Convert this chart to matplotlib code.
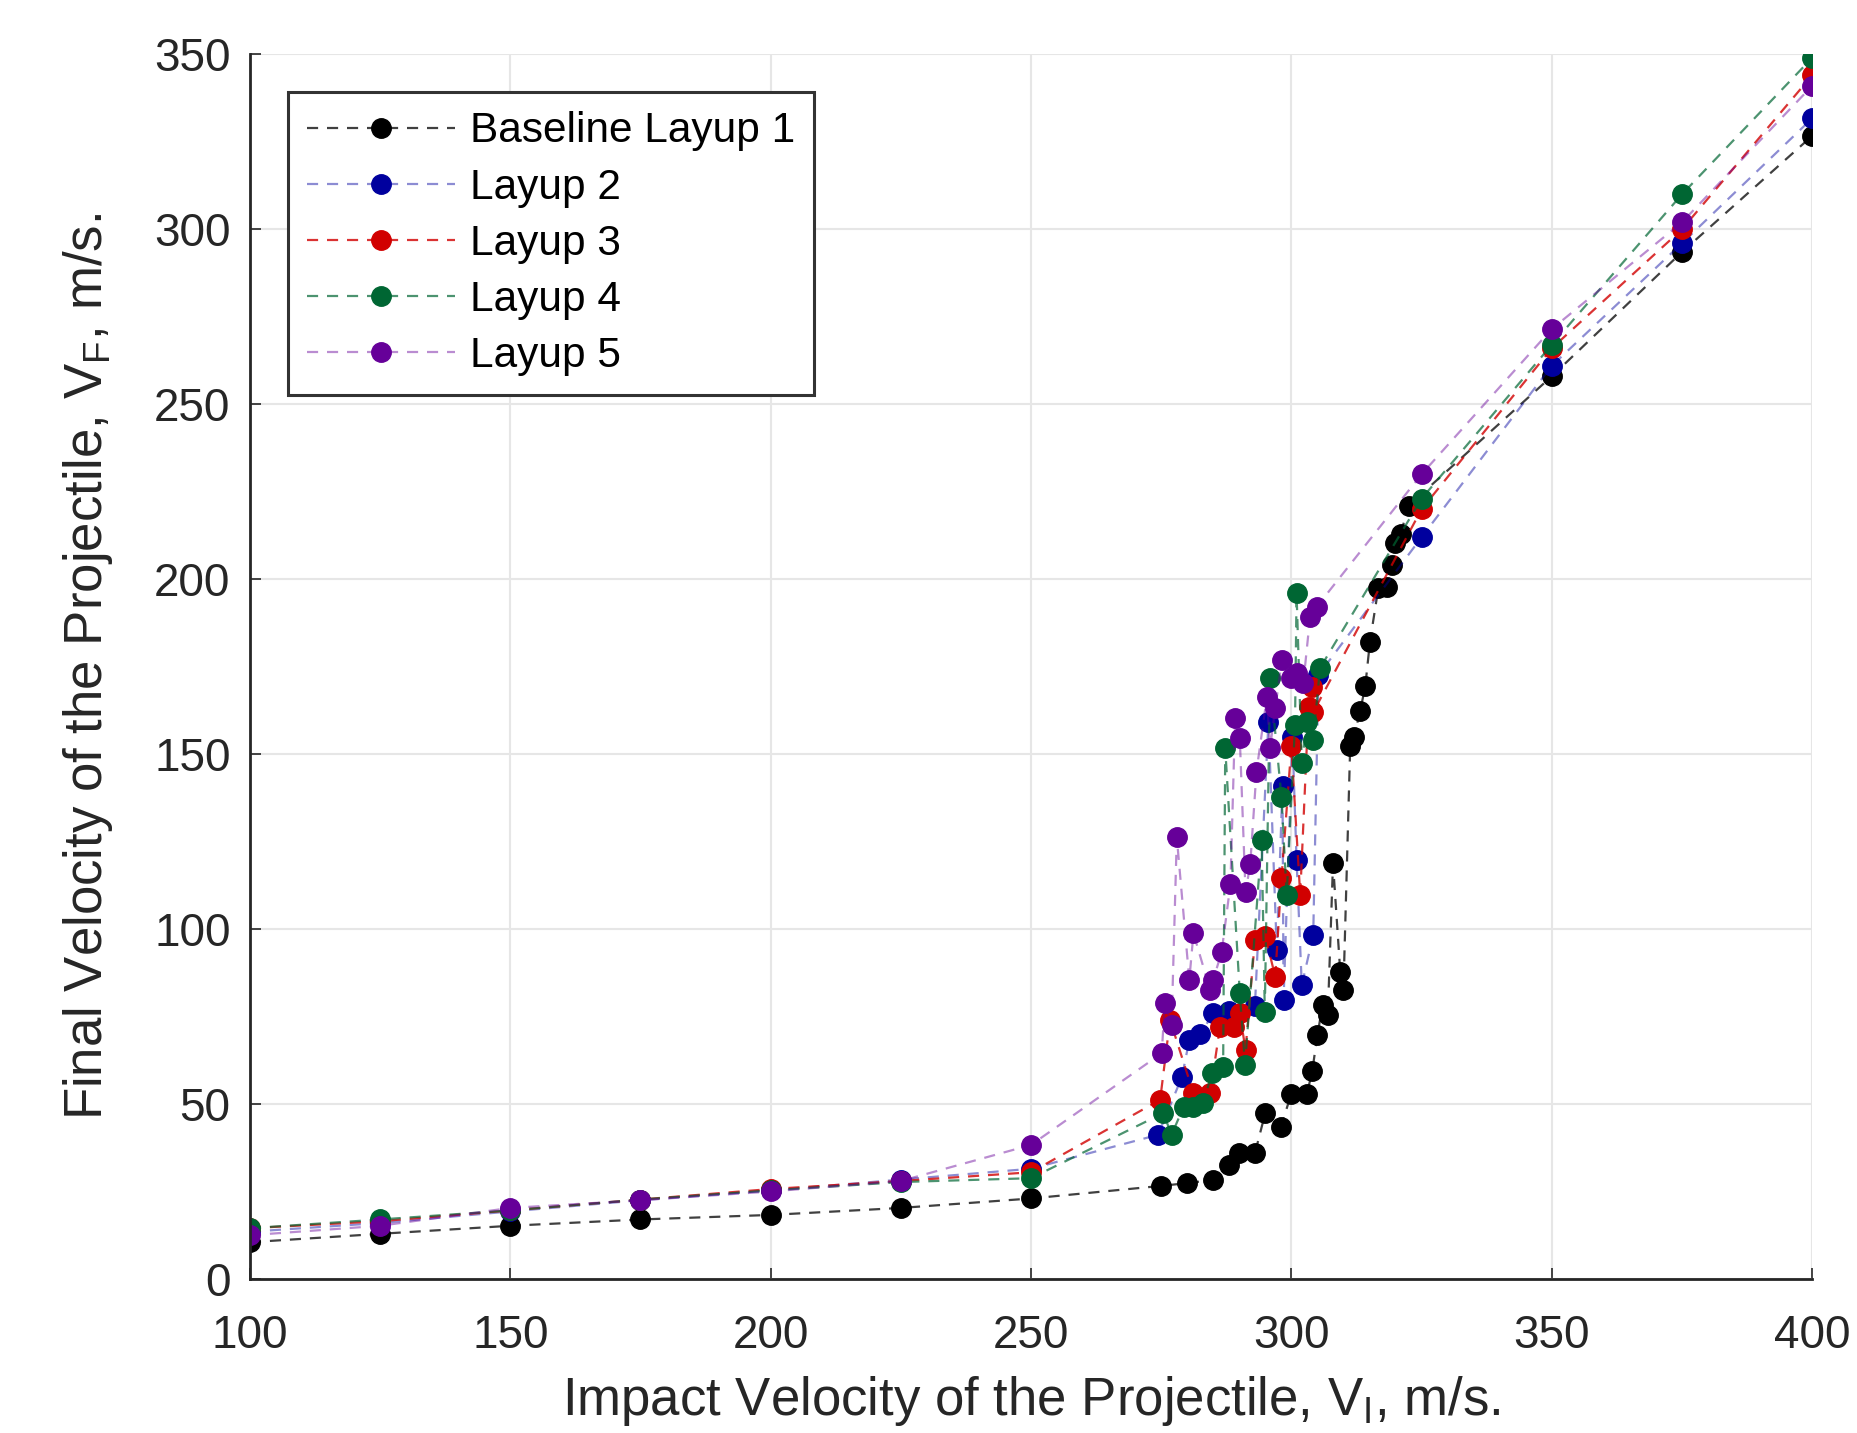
import matplotlib.pyplot as plt

plt.rcParams['font.family'] = ['Liberation Sans', 'DejaVu Sans']
plt.rcParams['mathtext.fontset'] = 'custom'
plt.rcParams['mathtext.rm'] = 'Liberation Sans'

# Baseline Layup 1
x1 = [100, 125, 150, 175, 200, 225, 250, 275, 280, 285, 288, 290, 293, 295, 298,
      300, 303, 304, 305, 306, 307, 308, 309.4, 310, 311.3, 312, 313.2, 314.2,
      315.1, 316.7, 318.3, 319.3, 320, 321, 322.5, 350, 375, 400]
y1 = [10.5, 12.9, 15.2, 17, 18.3, 20.3, 23, 26.6, 27.4, 28.3, 32.6, 35.9, 35.9,
      47.5, 43.5, 53, 53, 59.3, 69.7, 78.3, 75.5, 118.8, 87.6, 82.6, 152.2, 155,
      162.2, 169.5, 182.2, 197.4, 197.9, 204.1, 210.3, 213, 221, 258, 293.5, 326.7]

# Layup 2
x2 = [100, 125, 150, 175, 200, 225, 250, 274.4, 279, 280.4, 282.5, 285, 288, 293,
      295.6, 297.2, 298.3, 298.5, 300.2, 301, 302, 304.2, 305.2, 325, 350, 375, 400]
y2 = [13.5, 16, 19.3, 22.5, 25.3, 28.4, 31.5, 41.2, 57.8, 68.3, 70, 75.9, 76.5, 78,
      159.3, 94, 141, 79.7, 155, 119.8, 84, 98.3, 172.6, 212, 261, 296, 331.7]

# Layup 3
x3 = [100, 125, 150, 175, 200, 225, 250, 274.8, 276.7, 281.2, 284.4, 286.3, 288.9,
      290.1, 291.2, 293, 295, 296.9, 298.1, 300, 301.7, 303.3, 303.9, 304.2,
      325, 350, 375, 400]
y3 = [14.5, 16.5, 19.6, 22.7, 25.7, 28, 30.5, 51.2, 74, 53.1, 53.1, 72.1, 72.1,
      75.9, 65.5, 96.9, 98, 86.4, 114.5, 152.2, 109.8, 163.5, 169.3, 162,
      220, 266, 300, 344]

# Layup 4
x4 = [100, 125, 150, 175, 200, 225, 250, 275.4, 277, 279.3, 281.2, 283.1, 284.7,
      286.9, 287.3, 290.1, 291.1, 294.3, 294.9, 295.9, 298.1, 299.1, 300.7, 301,
      302, 303, 304.2, 305.5, 325, 350, 375, 400]
y4 = [14.5, 17, 19.6, 22.7, 25.3, 27.7, 28.8, 47.4, 41.2, 49.2, 49.2, 50.2, 58.8,
      60.7, 151.7, 81.7, 61.2, 125.5, 76.4, 171.7, 137.9, 109.8, 158.3, 196,
      147.4, 159.3, 154.1, 174.6, 223, 267, 310, 349]

# Layup 5
x5 = [100, 125, 150, 175, 200, 225, 250, 275.1, 275.7, 277, 278, 280.4, 281.2,
      284.4, 285, 286.6, 288.3, 289.2, 290.1, 291.2, 292.1, 293.3, 295.3, 295.9,
      296.9, 298.2, 300, 301, 302.3, 303.6, 304.9, 325, 350, 375, 400]
y5 = [12.5, 15.2, 20.3, 22.5, 25, 28, 38.3, 64.5, 78.8, 72.6, 126.2, 85.5, 98.8,
      82.6, 85.5, 93.4, 112.8, 160.3, 154.5, 110.5, 118.5, 145, 166.4, 151.7,
      163.1, 176.9, 171.7, 173.1, 170.3, 189.3, 192.2, 230, 271.5, 302, 341]

series = [
    (x1, y1, 'Baseline Layup 1', (0.0, 0.0, 0.0), 0.75),
    (x2, y2, 'Layup 2', (0.0, 0.0, 0.62), 0.45),
    (x3, y3, 'Layup 3', (0.82, 0.0, 0.0), 0.8),
    (x4, y4, 'Layup 4', (0.0, 0.4, 0.2), 0.7),
    (x5, y5, 'Layup 5', (0.4, 0.0, 0.6), 0.45),
]

fig = plt.figure(figsize=(18.57, 14.33), dpi=100)
ax = fig.add_axes([0.1346, 0.1075, 0.8412, 0.8545])

for xs, ys, name, c, a in series:
    ax.plot(xs, ys, linestyle=(0, (5, 4)), linewidth=1.6, color=c + (a,),
            marker='o', markersize=14, markerfacecolor=c, markeredgecolor=c,
            label=name)

ax.set_xlim(100, 400)
ax.set_ylim(0, 350)
ax.set_xticks(range(100, 401, 50))
ax.set_yticks(range(0, 351, 50))
ax.grid(True, color='#e6e6e6', linewidth=1.5)
ax.set_axisbelow(True)
for s in ['top', 'right']:
    ax.spines[s].set_visible(False)
for s in ['left', 'bottom']:
    ax.spines[s].set_linewidth(2)
    ax.spines[s].set_color('#262626')
ax.tick_params(direction='in', length=8, width=1.2, labelsize=33, colors='#262626')
ax.tick_params(axis='x', pad=25)
ax.tick_params(axis='y', pad=14)

ax.set_xlabel(r'Impact Velocity of the Projectile, V$_\mathregular{I}$, m/s.', fontsize=38,
              color='#262626', labelpad=12)
ax.set_ylabel(r'Final Velocity of the Projectile, V$_\mathregular{F}$, m/s.', fontsize=38,
              color='#262626', labelpad=28)

leg = ax.legend(loc='upper left', bbox_to_anchor=(0.0243, 0.969), borderaxespad=0,
                fontsize=30.5, handlelength=3.5, numpoints=1, fancybox=False,
                framealpha=1, edgecolor='#333333', borderpad=0.45, labelspacing=0.38,
                handletextpad=0.35)
leg.get_frame().set_linewidth(2.2)

plt.savefig('out.png', dpi=100)
